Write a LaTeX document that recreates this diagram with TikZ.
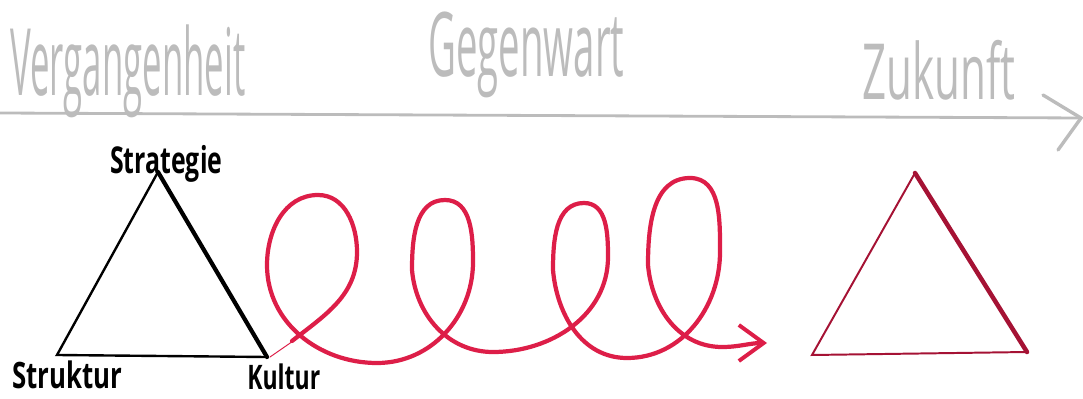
\documentclass[tikz,border=0pt]{standalone}
\usepackage{graphicx}
\usepackage{fontspec}
\usepackage{xcolor}
\usetikzlibrary{arrows.meta,calc,positioning}
\newfontfamily\handfont{Open Sans}
\newdimen\handpx \handpx=0.025cm
% hand lettering, stretched to a given width and height (in px)
\newcommand{\handtext}[3]{\resizebox*{#1\handpx}{#2\handpx}{\handfont #3}}
\definecolor{timegray}{RGB}{188,188,188}
\definecolor{spiralred}{RGB}{221,30,72}
\definecolor{darkred}{RGB}{165,18,52}

\begin{document}
\begin{tikzpicture}[x=0.025cm,y=0.025cm,
    lettering/.style={inner sep=0pt,anchor=north west},
    spiral/.style={spiralred,line width=3pt,line cap=round,line join=round}]
  \useasboundingbox (0,0) rectangle (1083,-399);
  % time line
  \coordinate (tstart) at (0,-113);
  \coordinate (tend) at (1081,-118);
  \draw[timegray,line width=2pt,line cap=round] (tstart)--(tend);
  \draw[timegray,line width=2.4pt,line cap=round] (1043,-95)--(tend)--(1058,-150);
  \node[lettering,text=timegray] (past) at (10,-25){\handtext{235}{93}{Vergangenheit}};
  \node[lettering,text=timegray] (now) at (428,-12){\handtext{196}{86}{Gegenwart}};
  \node[lettering,text=timegray] (future) at (862,-40){\handtext{153}{60}{Zukunft}};
  % triangle of today
  \coordinate (stra) at (158,-172);
  \coordinate (stru) at (57,-355);
  \coordinate (kult) at (267,-357);
  \draw[black,line width=1.7pt,line cap=round] (kult)--(stru)--(stra);
  \draw[black,line width=3pt,line cap=round] (stra)--(kult);
  \node[lettering] (lstra) at (110,-145){\handtext{112}{37}{\bfseries Strategie}};
  \node[lettering] (lstru) at (12,-361){\handtext{110}{28}{\bfseries Struktur}};
  \node[lettering] (lkult) at (247,-364){\handtext{73}{26}{\bfseries Kultur}};
  % loops of change
  \draw[spiralred,line width=0.7pt,line cap=round] (270,-357)--(296,-339);
  \draw[spiral,-{Straight Barb[length=0.62cm,width=0.9cm,line width=2.8pt]}]
    (292,-341) to[out=38,in=-90] (357,-252) to[out=90,in=0] (318,-195)
    to[out=180,in=90] (267,-265) to[out=-90,in=180] (377,-363)
    to[out=0,in=-90] (473,-262) to[out=90,in=0] (445,-200)
    to[out=180,in=90] (412,-270) to[out=-85,in=180] (493,-352)
    to[out=0,in=-90] (608,-257) to[out=90,in=0] (584,-203)
    to[out=180,in=90] (553,-270) to[out=-85,in=180] (627,-358)
    to[out=0,in=-90] (720,-252) to[out=90,in=0] (690,-178)
    to[out=180,in=90] (648,-265) to[out=-85,in=180] (722,-347)
    to[out=0,in=180] (767,-343);
  % triangle of tomorrow
  \coordinate (ftop) at (915,-173);
  \coordinate (fleft) at (812,-355);
  \coordinate (fright) at (1027,-352);
  \draw[darkred,line width=1.4pt,line cap=round] (fright)--(fleft)--(ftop);
  \draw[darkred,line width=3.2pt,line cap=round] (ftop)--(fright);
\end{tikzpicture}
\end{document}
